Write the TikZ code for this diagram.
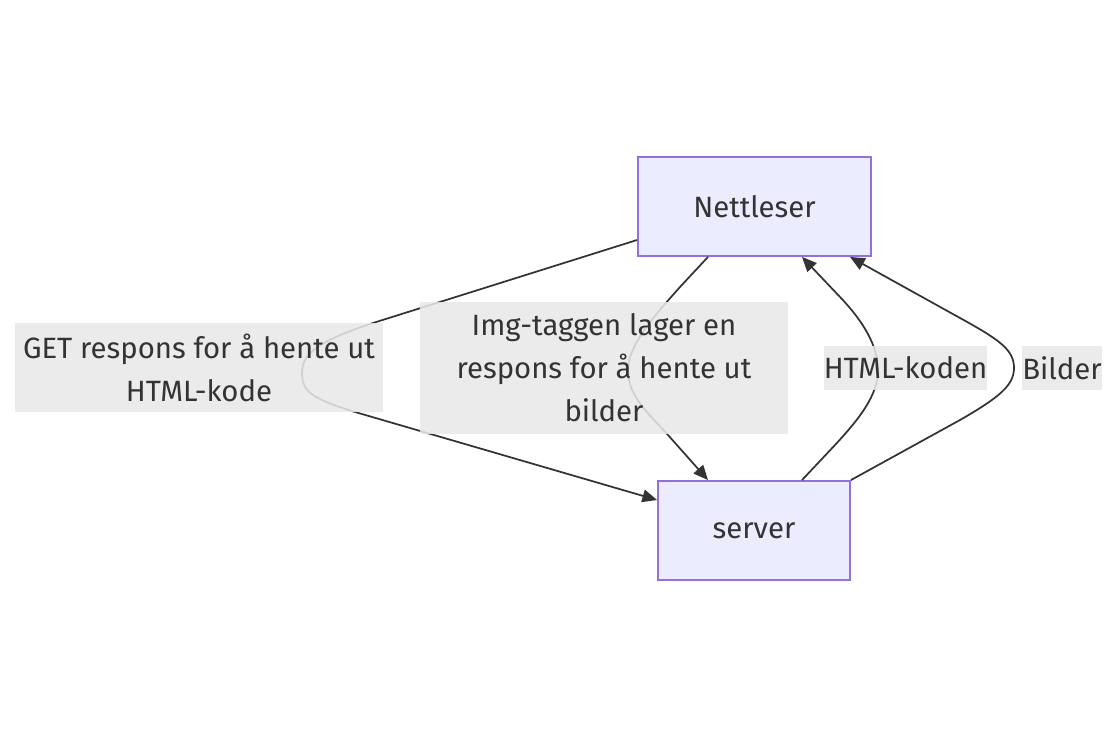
\documentclass[tikz,border=0pt]{standalone}
\usepackage{fontspec}
\setmainfont{Fira Sans}
\usetikzlibrary{arrows.meta,calc}

\definecolor{boxfill}{HTML}{ECECFF}
\definecolor{boxline}{HTML}{9370DB}
\definecolor{ink}{HTML}{333333}
\definecolor{lblfill}{HTML}{E8E8E8}

\tikzset{
  box/.style={draw=boxline, fill=boxfill, line width=1.4pt, inner sep=0pt,
    text=ink, font=\fontsize{22}{32.25}\selectfont},
  lbl/.style={fill=lblfill, fill opacity=0.87, text opacity=1, inner sep=0pt,
    text=ink, align=center, font=\fontsize{22}{32.25}\selectfont},
  flow/.style={draw=ink, line width=1.3pt, -{Triangle[length=11pt, width=9.5pt]}}
}

\begin{document}
\begin{tikzpicture}[x=0.75pt,y=-0.75pt]
\useasboundingbox (0,0) rectangle (1116,737);
\node[box, minimum width=174.75pt, minimum height=74.25pt] (nett) at (754.5,206.5) {Nettleser};
\node[box, minimum width=144pt, minimum height=74.25pt] (srv) at (754,530.5) {server};

% GET respons
\draw[flow] ($(nett.west)+(0,33.5)$) -- (373,323)
  .. controls (315,342) and (302,355) .. (302,373)
  .. controls (302,391) and (310,398) .. (355,412) -- ($(srv.west)+(0,-30.5)$);
% Img-taggen
\draw[flow] ($(nett.south)+(-46.5,0)$) -- (680,287)
  .. controls (655,315) and (628,345) .. (628,370)
  .. controls (628,395) and (645,410) .. (668,435) -- ($(srv.north)+(-46,0)$);
% HTML-koden
\draw[flow] ($(srv.north)+(48,0)$) -- (835,445)
  .. controls (860,418) and (878,395) .. (878,370)
  .. controls (878,345) and (862,320) .. (840,297) -- ($(nett.south)+(47.5,0)$);
% Bilder
\draw[flow] (srv.north east) -- (960,420)
  .. controls (1000,397) and (1014,385) .. (1014,368)
  .. controls (1014,350) and (1000,340) .. (960,318) -- ($(nett.south)+(95.5,0)$);

\node[lbl, minimum width=276pt, minimum height=66.75pt] (getlbl) at (199,367.5) {GET respons for å hente ut\\HTML-kode};
\node[lbl, minimum width=276pt, minimum height=99pt] (imglbl) at (604,368) {Img-taggen lager en\\respons for å hente ut\\bilder};
\node[lbl, minimum width=122.25pt, minimum height=33pt] (htmllbl) at (905.5,368) {HTML-koden};
\node[lbl, minimum width=58.5pt, minimum height=33pt] (bildlbl) at (1062,368) {Bilder};
\end{tikzpicture}
\end{document}
